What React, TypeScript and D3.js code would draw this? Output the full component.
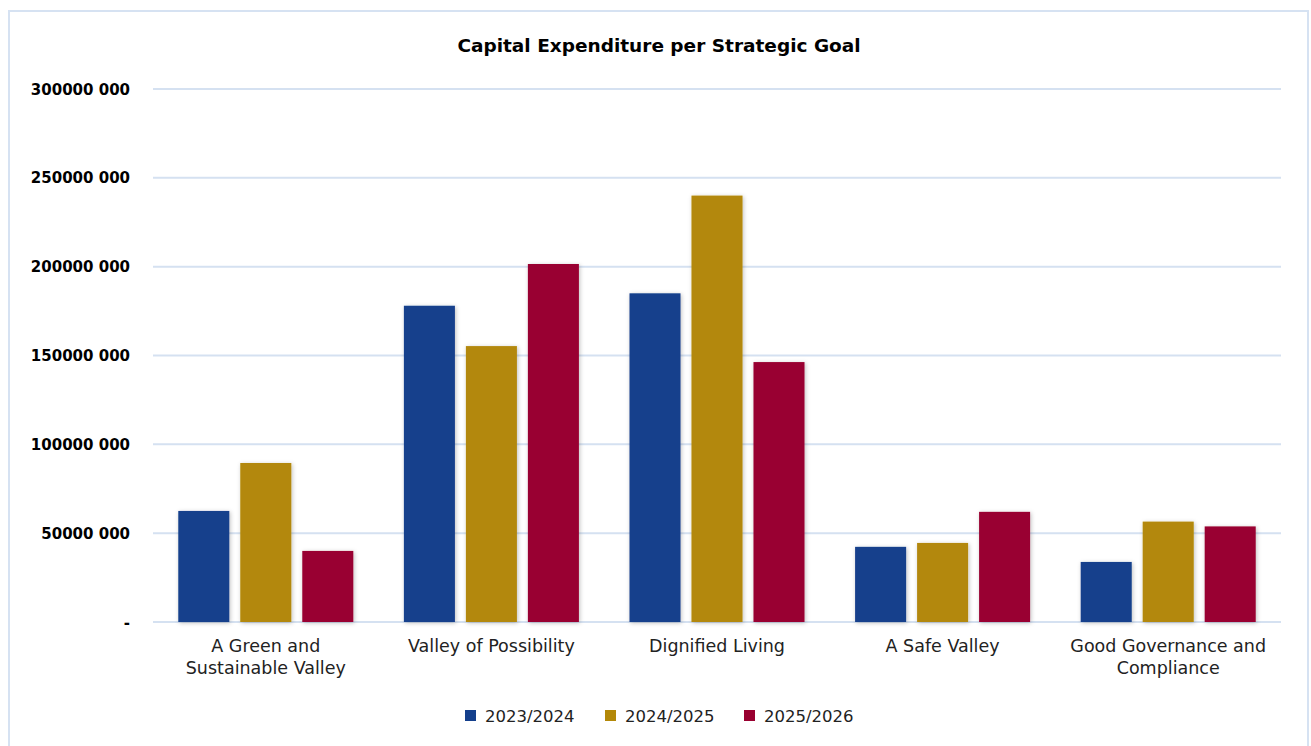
import { scaleBand, scaleLinear } from "d3";

const categories = [
  ["A Green and", "Sustainable Valley"],
  ["Valley of Possibility"],
  ["Dignified Living"],
  ["A Safe Valley"],
  ["Good Governance and", "Compliance"],
];
const seriesNames = ["2023/2024", "2024/2025", "2025/2026"];
const colors = ["#143F8C", "#B38808", "#990030"];
const values2023 = [62500000, 178000000, 185000000, 42300000, 33800000];
const values2024 = [89500000, 155300000, 240000000, 44500000, 56500000];
const values2025 = [40000000, 201500000, 146300000, 62000000, 53800000];
const yTicks = [0, 50000000, 100000000, 150000000, 200000000, 250000000, 300000000];

const seriesValues = [values2023, values2024, values2025];

// 300000000 -> "300000 000", 0 -> "-"
function fmt(v: number) {
  if (v === 0) return "-";
  return v.toString().replace(/(\d{3})$/, " $1");
}

const font = "DejaVu Sans, Verdana, sans-serif";

export default function App() {
  const left = 153;
  const right = 1281;
  const top = 89;
  const bottom = 622;

  const x = scaleBand<number>()
    .domain(categories.map((_, i) => i))
    .range([left, right]);
  const inner = scaleBand<number>()
    .domain(seriesNames.map((_, i) => i))
    .range([0, x.bandwidth()])
    .paddingInner(0.177)
    .paddingOuter(0.408);
  const y = scaleLinear().domain([0, 300000000]).range([bottom, top]);

  const legendX = [465, 605, 744];

  return (
    <svg
      width={1311}
      height={746}
      style={{ position: "absolute", left: 0, top: 0 }}
    >
      <defs>
        <filter id="shadow" x="-20%" y="-10%" width="140%" height="120%">
          <feDropShadow dx="1" dy="1" stdDeviation="2" floodColor="#000" floodOpacity="0.25" />
        </filter>
      </defs>
      <rect x={0} y={0} width={1311} height={746} fill="#fff" />
      <rect
        x={9}
        y={11}
        width={1299}
        height={760}
        fill="#fff"
        stroke="#D6E2F2"
        strokeWidth={2}
      />
      <text
        x={659}
        y={52}
        textAnchor="middle"
        fontFamily={font}
        fontWeight="bold"
        fontSize={18.5}
        fill="#000"
      >
        Capital Expenditure per Strategic Goal
      </text>

      {yTicks.map((t) => (
        <g key={t}>
          <line
            x1={left}
            x2={right}
            y1={y(t)}
            y2={y(t)}
            stroke="#D5E1F1"
            strokeWidth={2}
          />
          <text
            x={130}
            y={y(t) + 5.5}
            textAnchor="end"
            fontFamily={font}
            fontWeight="bold"
            fontSize={15}
            fill="#000"
          >
            {fmt(t)}
          </text>
        </g>
      ))}

      {seriesValues.map((vals, s) =>
        vals.map((v, i) => (
          <rect
            key={`${s}-${i}`}
            x={(x(i) as number) + (inner(s) as number)}
            y={y(v)}
            width={inner.bandwidth()}
            height={y(0) - y(v)}
            fill={colors[s]}
            filter="url(#shadow)"
          />
        ))
      )}

      {categories.map((lines, i) => (
        <text
          key={i}
          textAnchor="middle"
          fontFamily={font}
          fontSize={17.5}
          fill="#222"
        >
          {lines.map((l, j) => (
            <tspan key={j} x={(x(i) as number) + x.bandwidth() / 2} y={652 + j * 22}>
              {l}
            </tspan>
          ))}
        </text>
      ))}

      {seriesNames.map((n, s) => (
        <g key={n}>
          <rect x={legendX[s]} y={710} width={11} height={11} fill={colors[s]} />
          <text
            x={legendX[s] + 20}
            y={722}
            fontFamily={font}
            fontSize={16.5}
            fill="#222"
          >
            {n}
          </text>
        </g>
      ))}
    </svg>
  );
}
